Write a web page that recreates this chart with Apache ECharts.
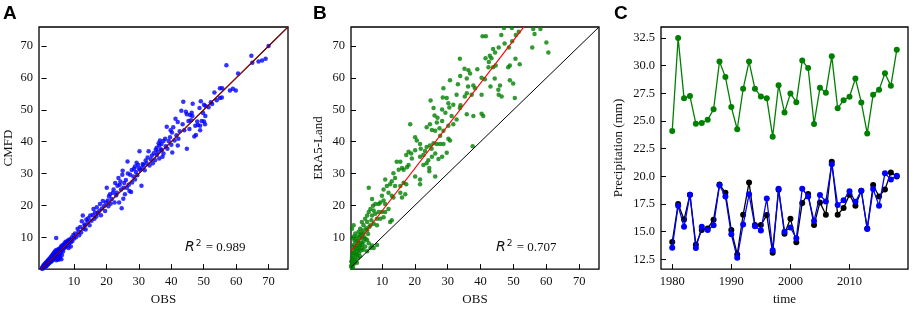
<!DOCTYPE html>
<html>
<head>
<meta charset="utf-8">
<script src="https://cdn.jsdelivr.net/npm/echarts@6/dist/echarts.min.js"></script>
<style>
  html, body { margin: 0; padding: 0; background: #fff; }
  #chart { width: 913px; height: 311px; }
</style>
</head>
<body>
<div id="chart"></div>
<script>
// panel A: OBS vs CMFD  [obs, cmfd]
const pointsA = [
  [0.1,0.2],[0.2,0.5],[0.3,0.1],[0.4,0.8],[0.5,0.4],[0.6,1.1],[0.7,0.6],[0.8,1.4],[0.9,0.9],[1.0,1.7],
  [1.1,1.2],[1.2,0.7],[1.3,2.0],[1.4,1.5],[1.5,1.0],[1.6,2.3],[1.7,1.8],[1.8,1.3],[1.9,2.7],[2.0,2.1],
  [2.1,1.6],[2.2,3.0],[2.3,2.4],[2.4,1.9],[2.5,3.3],[2.6,2.7],[2.7,2.2],[2.8,3.7],[2.9,3.0],[3.0,2.4],
  [3.1,4.1],[3.2,3.4],[3.3,2.7],[3.4,4.6],[3.5,3.7],[3.6,3.0],[3.7,5.0],[3.8,4.0],[3.9,3.3],[4.0,5.4],
  [4.1,4.4],[4.2,3.6],[4.3,5.8],[4.4,4.8],[4.5,9.8],[4.5,2.8],[4.6,5.2],[4.7,4.0],[4.8,6.1],[4.9,3.2],
  [5.0,5.5],[5.1,4.6],[5.2,2.9],[5.3,6.3],[5.4,3.8],[5.5,5.9],[5.6,4.4],[5.7,3.5],[5.8,6.6],[5.9,5.2],
  [6.0,7.1],[6.1,3.1],[6.2,6.0],[6.3,4.4],[6.4,7.5],[6.6,5.5],[6.7,7.4],[6.8,6.4],[7.0,8.0],[7.1,6.8],
  [7.2,7.8],[7.4,8.6],[7.5,7.0],[7.7,8.2],[7.8,8.4],[8.0,7.5],[8.1,9.0],[8.3,8.6],[8.3,6.6],[8.5,8.0],
  [8.6,9.3],[8.8,9.1],[9.0,7.1],[9.1,8.5],[9.3,9.9],[9.5,8.8],[9.8,10.7],[10.0,9.6],
  [10.3,11.2],[10.6,10.0],[11.1,12.7],[11.4,11.7],[11.6,10.6],[11.9,13.2],[12.2,11.5],[12.4,15.0],[12.7,16.8],[12.9,12.7],
  [13.2,14.0],[13.4,13.7],[13.6,12.4],[13.8,15.6],[14.2,14.8],[14.4,16.0],[14.8,13.8],[15.0,16.8],[15.4,15.2],[15.8,17.0],
  [16.0,18.9],[16.3,15.8],[16.5,17.8],[16.9,16.5],[17.0,19.4],[17.3,17.6],[17.8,18.3],[18.0,20.4],[18.3,16.9],[18.6,19.0],
  [18.9,21.4],[19.3,19.9],[19.6,18.2],[19.9,20.9],[20.1,25.5],[20.4,21.5],[20.6,19.7],[20.8,22.9],[21.1,23.5],[21.3,20.5],
  [21.6,22.0],[22.0,24.0],[22.2,25.0],[22.5,20.9],[22.7,27.0],[23.0,23.2],[23.2,24.0],[23.4,26.2],[23.7,28.6],[23.9,20.9],
  [24.1,26.5],[24.3,27.5],[24.5,25.0],[24.7,19.1],[24.9,29.6],[25.0,30.9],[25.2,22.1],[25.3,25.5],[25.5,27.0],[25.7,23.5],
  [26.0,28.0],[26.3,25.5],[26.5,33.8],[26.6,30.0],[26.9,26.5],[27.1,24.5],[27.3,29.6],[27.6,24.2],[27.8,31.1],[27.9,27.2],
  [28.3,29.1],[28.5,31.5],[28.8,32.2],[28.8,28.1],[29.1,30.5],[29.3,33.4],[29.5,29.5],[29.8,32.7],[30.0,31.6],
  [30.2,37.0],[30.4,31.1],[30.8,26.2],[30.9,31.7],[31.2,33.0],[31.4,32.7],[31.8,31.0],[32.1,34.1],[32.4,33.2],[32.7,35.0],
  [33.0,37.0],[33.3,32.5],[33.7,34.4],[34.0,35.6],[34.3,33.2],[34.6,36.4],[35.0,34.2],[35.2,37.5],[35.5,38.1],[35.5,35.8],
  [35.8,36.8],[36.1,39.5],[36.3,34.7],[36.3,38.8],[36.5,40.4],[36.8,37.6],[37.0,39.3],[37.0,37.3],[37.3,35.3],[37.6,40.2],
  [37.6,36.3],[38.1,40.9],[38.3,38.6],[38.6,44.7],[38.8,37.8],[39.2,40.2],[39.6,41.4],[39.8,43.6],[40.0,39.0],[40.2,42.9],
  [40.3,36.6],[40.6,44.5],[41.0,40.4],[41.3,47.2],[41.6,42.0],[42.0,46.2],[42.0,38.8],[42.2,40.9],[42.6,43.3],[43.1,49.7],
  [43.5,45.5],[43.7,52.5],[44.0,43.6],[44.5,49.4],[44.8,48.6],[44.8,37.8],[45.3,46.5],[45.6,44.0],[45.8,48.4],[46.1,46.7],
  [46.3,49.1],[46.5,48.1],[46.6,51.9],[47.1,41.6],[47.4,45.0],[47.6,42.1],[48.0,46.3],[48.2,45.2],[48.7,50.6],[48.9,45.0],
  [48.9,43.6],[49.1,52.7],[49.4,46.5],[49.8,49.0],[50.1,51.6],[50.1,46.3],[50.4,45.5],[50.5,48.1],[50.6,51.2],[51.5,50.8],
  [52.2,52.4],[52.6,51.8],[53.3,55.4],[54.0,53.0],[55.0,56.8],[55.0,53.7],[55.6,53.9],[55.7,56.8],[57.0,64.0],[58.1,56.1],
  [59.0,56.6],[59.9,56.1],[60.6,61.4],[64.7,67.0],[65.0,64.8],[66.9,65.2],[68.0,65.5],[69.1,66.0],[70.0,70.0]
];

// panel B: OBS vs ERA5-Land  [obs, era5]
const pointsB = [
  [0.6,1.0],[0.7,2.5],[0.8,0.4],[0.9,3.6],[0.9,2.0],[1.0,9.7],[0.9,12.7],[1.0,5.0],[1.1,7.0],[1.2,0.5],
  [1.3,4.2],[1.4,1.5],[1.4,5.1],[1.4,7.6],[1.4,10.2],[1.4,13.8],[1.5,3.0],[1.6,6.0],[1.7,8.8],[1.8,2.2],
  [1.9,3.1],[1.9,6.6],[1.9,11.2],[2.0,4.4],[2.1,9.3],[2.2,5.6],[2.3,7.2],[2.4,2.0],[2.4,4.6],[2.4,8.1],
  [2.4,10.2],[2.6,6.4],[2.7,3.6],[2.8,8.8],[2.9,6.1],[2.9,11.7],[3.0,5.0],[3.1,7.2],[3.2,9.9],[3.3,4.0],
  [3.4,7.6],[3.4,10.7],[3.4,12.7],[3.6,8.3],[3.6,5.8],[3.7,11.2],[3.9,6.6],[3.9,9.7],[3.9,14.8],[4.0,7.8],
  [4.2,12.1],[4.4,6.1],[4.4,8.6],[4.4,11.2],[4.4,13.8],[4.6,10.0],[4.9,7.1],[4.9,15.8],[5.0,9.5],[5.2,12.8],
  [5.5,5.6],[5.5,9.1],[5.5,12.2],[5.5,14.8],[5.5,16.8],[5.8,11.0],[6.0,8.1],[6.0,17.9],[6.0,25.5],[6.2,13.3],
  [6.5,6.6],[6.5,13.8],[6.5,18.9],[6.8,15.3],[7.0,7.4],[7.0,16.8],[7.0,22.0],[7.3,19.9],[7.5,6.6],[7.5,14.2],
  [7.5,18.4],[8.0,17.4],[8.0,20.4],[8.5,7.6],[8.5,13.8],[8.5,15.8],[9.0,17.9],[9.0,20.4],[9.5,15.8],[9.5,20.9],
  [10.0,17.9],[10.0,23.0],[10.5,16.3],[10.5,21.5],[10.5,25.0],[11.0,17.9],[11.0,20.4],[11.0,28.1],[11.5,26.1],[12.0,18.9],
  [12.0,24.0],[12.5,14.8],[12.5,26.6],[13.0,15.3],[13.0,23.0],[13.0,27.6],[13.5,22.5],[13.5,30.1],[14.0,26.1],[14.0,28.6],
  [14.5,33.7],[15.1,31.2],[15.6,24.0],[15.6,26.1],[15.6,33.7],[16.1,22.5],[16.1,31.7],[16.6,27.1],[16.6,31.2],[17.1,23.5],
  [17.4,26.6],[17.4,35.8],[17.6,32.0],[18.1,32.7],[18.1,36.8],[18.6,45.5],[18.9,36.3],[19.1,34.7],[20.1,29.1],[20.1,37.3],
  [20.1,41.4],[20.6,40.4],[21.6,26.6],[21.6,28.1],[21.6,35.3],[21.6,39.3],[21.8,37.8],[22.6,32.7],[22.6,35.8],[23.1,37.1],
  [23.6,33.2],[23.6,38.3],[23.6,44.5],[24.1,34.2],[24.4,30.7],[24.4,31.7],[24.6,38.8],[24.6,45.5],[24.8,52.9],[25.1,37.8],
  [25.2,35.3],[25.2,43.7],[25.7,39.5],[25.7,50.6],[26.0,48.2],[26.2,29.1],[26.2,36.3],[26.2,43.4],[26.7,39.3],[26.7,46.0],
  [26.9,47.5],[27.2,34.6],[27.5,44.2],[27.7,39.3],[27.7,41.9],[28.3,35.3],[28.3,46.5],[28.3,50.1],[28.5,53.9],[28.7,39.3],
  [28.7,43.4],[28.7,56.8],[29.3,49.1],[29.7,36.5],[29.7,53.7],[30.2,40.9],[30.2,45.0],[30.2,52.1],[30.5,50.7],[30.7,40.4],
  [30.7,59.3],[31.2,48.1],[31.7,45.5],[31.7,51.6],[32.7,47.0],[32.7,54.7],[33.1,58.0],[33.7,50.6],[33.7,66.0],[33.8,60.6],
  [33.9,51.4],[35.1,62.9],[35.2,54.2],[35.8,48.6],[35.8,55.2],[35.8,59.8],[36.2,57.3],[36.3,62.4],[36.8,61.4],[37.3,54.7],
  [37.6,38.6],[37.8,48.1],[37.8,57.6],[38.3,56.8],[39.0,62.7],[40.3,48.8],[40.3,54.7],[40.3,60.1],[40.6,73.1],[40.8,48.1],
  [41.3,59.6],[41.5,66.2],[41.6,73.1],[42.4,63.4],[42.5,65.0],[42.8,67.0],[43.0,57.3],[43.3,66.2],[43.8,63.4],[43.8,69.1],
  [44.3,59.8],[44.4,68.0],[44.6,63.9],[45.4,56.3],[45.5,54.7],[45.5,69.6],[45.9,57.6],[46.3,73.5],[46.4,54.2],[47.1,75.7],
  [47.3,70.8],[48.4,63.4],[48.6,69.6],[48.9,59.3],[48.9,63.9],[49.5,75.7],[49.6,71.5],[49.9,58.3],[50.4,53.7],[50.6,66.0],
  [50.7,73.5],[51.6,74.5],[51.9,64.3],[55.7,69.6],[56.0,75.4],[56.4,73.8],[58.2,75.4],[60.0,71.1],[60.6,68.0]
];

// regression lines [slope, intercept] and R2
const fitA = [1.0, 0.05];
const fitB = [1.34, 4.8];
const r2A = '0.989';
const r2B = '0.707';

// panel C: annual precipitation (mm)
const years = [1980,1981,1982,1983,1984,1985,1986,1987,1988,1989,1990,1991,1992,1993,1994,1995,1996,1997,1998,1999,
               2000,2001,2002,2003,2004,2005,2006,2007,2008,2009,2010,2011,2012,2013,2014,2015,2016,2017,2018];
const era5 = [24.1,32.5,27.05,27.26,24.76,24.82,25.12,26.06,30.38,28.97,26.26,24.26,27.91,30.38,27.91,27.23,27.05,23.59,28.24,25.77,
              27.5,26.71,30.47,29.79,24.74,28.0,27.56,30.85,26.15,26.88,27.2,28.85,26.68,23.88,27.38,27.82,29.32,28.18,31.44];
const obs = [14.06,17.5,16.1,18.35,13.82,15.15,15.3,16.09,19.26,18.53,15.15,12.94,16.53,19.45,15.6,15.6,16.5,13.09,18.8,14.82,
             16.18,14.05,17.6,18.4,15.6,17.65,16.53,21.33,16.53,17.15,18.35,17.35,18.7,15.3,19.21,18.18,18.82,20.35,20.0];
const cmfd = [13.55,17.35,15.44,18.35,13.53,15.44,15.15,15.58,19.2,18.18,14.76,12.65,15.65,18.38,15.5,15.1,18.0,13.32,18.88,15.0,
              15.38,14.41,18.88,18.18,15.97,18.32,17.74,21.1,17.41,17.85,18.65,17.71,18.7,15.24,18.85,17.35,20.29,19.71,20.05];

const scatterTicks = [10, 20, 30, 40, 50, 60, 70];
const yearTicks = [1980, 1990, 2000, 2010];
const precipTicks = [12.5, 15.0, 17.5, 20.0, 22.5, 25.0, 27.5, 30.0, 32.5];

const serif = 'Liberation Serif';
const labelStyle = { fontFamily: serif, fontSize: 12.5, color: '#111' };
const nameStyle = { fontFamily: serif, fontSize: 13, color: '#111' };

function valueAxis(grid, min, max, ticks, name, gap, fmt) {
  return {
    type: 'value', gridIndex: grid, min: min, max: max, scale: true,
    name: name, nameLocation: 'middle', nameGap: gap, nameTextStyle: nameStyle,
    axisLine: { show: false },
    axisTick: { show: true, inside: true, length: 5, customValues: ticks,
                lineStyle: { color: '#000', width: 1 } },
    axisLabel: Object.assign({ customValues: ticks, margin: 6, formatter: fmt }, labelStyle),
    splitLine: { show: false }
  };
}

function lineEnds(fit, x0, x1) {
  return [[x0, fit[0] * x0 + fit[1]], [x1, fit[0] * x1 + fit[1]]];
}

const gridBox = { show: true, borderColor: '#000', borderWidth: 1.3, backgroundColor: '#fff' };
const chart = echarts.init(document.getElementById('chart'));

chart.setOption({
  animation: false,
  backgroundColor: '#fff',
  grid: [
    Object.assign({ left: 39, top: 27, width: 249, height: 248 }, gridBox),
    Object.assign({ left: 351, top: 27, width: 248, height: 248 }, gridBox),
    Object.assign({ left: 661, top: 27, width: 247, height: 248 }, gridBox)
  ],
  xAxis: [
    valueAxis(0, -0.8, 76, scatterTicks, 'OBS', 20, v => String(v)),
    valueAxis(1, 0.6, 76, scatterTicks, 'OBS', 20, v => String(v)),
    valueAxis(2, 1978.1, 2019.9, yearTicks, 'time', 20, v => String(v))
  ],
  yAxis: [
    valueAxis(0, 0, 76, scatterTicks, 'CMFD', 24, v => String(v)),
    valueAxis(1, 0, 76, scatterTicks, 'ERA5-Land', 26, v => String(v)),
    valueAxis(2, 11.62, 33.5, precipTicks, 'Precipitation (mm)', 36, v => v.toFixed(1))
  ],
  series: [
    { type: 'scatter', xAxisIndex: 0, yAxisIndex: 0, data: pointsA, symbolSize: 4.5,
      itemStyle: { color: '#0000ff' }, z: 2 },
    { type: 'line', xAxisIndex: 0, yAxisIndex: 0, data: lineEnds([1, 0], -0.8, 76), symbol: 'none',
      lineStyle: { color: '#000', width: 1.2 }, z: 3 },
    { type: 'line', xAxisIndex: 0, yAxisIndex: 0, data: lineEnds(fitA, -0.8, 76), symbol: 'none',
      lineStyle: { color: '#e00000', width: 0.9 }, z: 4 },

    { type: 'scatter', xAxisIndex: 1, yAxisIndex: 1, data: pointsB, symbolSize: 4.5,
      itemStyle: { color: '#008000' }, z: 2 },
    { type: 'line', xAxisIndex: 1, yAxisIndex: 1, data: lineEnds([1, 0], 0.6, 76), symbol: 'none',
      lineStyle: { color: '#000', width: 1 }, z: 3 },
    { type: 'line', xAxisIndex: 1, yAxisIndex: 1, data: lineEnds(fitB, 0.6, 76), symbol: 'none',
      lineStyle: { color: '#ff0000', width: 1.2 }, z: 4 },

    { type: 'line', xAxisIndex: 2, yAxisIndex: 2, data: years.map((y, i) => [y, era5[i]]),
      symbol: 'circle', symbolSize: 6, itemStyle: { color: '#008000' },
      lineStyle: { color: '#008000', width: 1.3 }, z: 2 },
    { type: 'line', xAxisIndex: 2, yAxisIndex: 2, data: years.map((y, i) => [y, obs[i]]),
      symbol: 'circle', symbolSize: 6, itemStyle: { color: '#000' },
      lineStyle: { color: '#000', width: 1.3 }, z: 3 },
    { type: 'line', xAxisIndex: 2, yAxisIndex: 2, data: years.map((y, i) => [y, cmfd[i]]),
      symbol: 'circle', symbolSize: 6, itemStyle: { color: '#0000ff' },
      lineStyle: { color: '#0000ff', width: 1.3 }, z: 4 }
  ],
  graphic: [
    { type: 'text', left: 3, top: 4, style: { text: 'A', font: 'bold 19px "Liberation Sans"', fill: '#000' } },
    { type: 'text', left: 313, top: 4, style: { text: 'B', font: 'bold 19px "Liberation Sans"', fill: '#000' } },
    { type: 'text', left: 614, top: 4, style: { text: 'C', font: 'bold 19px "Liberation Sans"', fill: '#000' } },
    { type: 'text', left: 185, top: 239, style: {
        text: '{i|R}{s|2}{t| = ' + r2A + '}',
        rich: {
          i: { font: 'italic 14px "DejaVu Sans"', fill: '#111' },
          s: { font: '9px "DejaVu Sans"', fill: '#111', padding: [0, 1, 8, 1] },
          t: { font: '13px "Liberation Serif"', fill: '#111' }
        } } },
    { type: 'text', left: 496, top: 239, style: {
        text: '{i|R}{s|2}{t| = ' + r2B + '}',
        rich: {
          i: { font: 'italic 14px "DejaVu Sans"', fill: '#111' },
          s: { font: '9px "DejaVu Sans"', fill: '#111', padding: [0, 1, 8, 1] },
          t: { font: '13px "Liberation Serif"', fill: '#111' }
        } } }
  ]
});
</script>
</body>
</html>
